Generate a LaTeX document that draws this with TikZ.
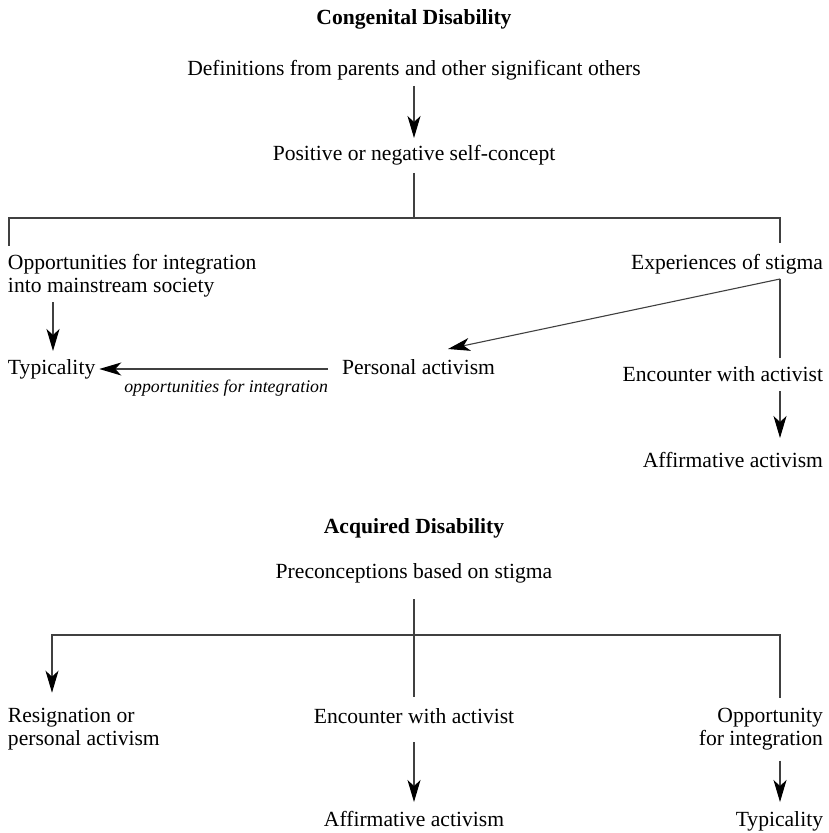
\documentclass[tikz,border=0pt]{standalone}
\usepackage{fontspec}
\setmainfont{Liberation Serif}
\usetikzlibrary{arrows.meta}
\begin{document}
\begin{tikzpicture}[x=0.5pt,y=-0.5pt,
  txt/.style={inner sep=0pt, outer sep=0pt, font=\fontsize{10.8}{11.5}\selectfont, text height=7.5pt, text depth=2.5pt},
  mtxt/.style={inner sep=0pt, outer sep=0pt, font=\fontsize{10.8}{11.5}\selectfont},
  ttl/.style={txt, font=\fontsize{10.8}{11.5}\selectfont\bfseries},
  lbl/.style={inner sep=0pt, outer sep=0pt, font=\fontsize{8.9}{10}\selectfont\itshape},
  ln/.style={draw=black!75, line width=0.55pt},
  arr/.style={ln, -{Stealth[length=11pt,width=6.5pt,inset=3pt,black]}}
]
\useasboundingbox (0,0) rectangle (828,833);

% ---------- Congenital ----------
\node[ttl, anchor=base] (t1) at (414,25) {Congenital Disability};
\node[txt, anchor=base] (def) at (414,76) {Definitions from parents and other significant others};
\node[txt, anchor=base] (pos) at (414,161) {Positive or negative self-concept};
\node[mtxt, anchor=base west, align=left] (opp) at (8,293) {Opportunities for integration\\into mainstream society};
\node[txt, anchor=base east] (exp) at (823,270) {Experiences of stigma};
\node[txt, anchor=base west] (typ) at (8,374) {Typicality};
\node[txt, anchor=base west] (pers) at (342,374) {Personal activism};
\node[lbl, anchor=base east] (lab) at (328,392) {opportunities for integration};
\node[txt, anchor=base east] (enc1) at (823,381) {Encounter with activist};
\node[txt, anchor=base east] (aff1) at (823,467) {Affirmative activism};

\coordinate (j1) at (414,218);
\coordinate (jl) at (9,218);
\coordinate (jr) at (780,218);
\coordinate (oppTop) at (9,246);
\coordinate (expTop) at (780,243);
\coordinate (s1) at (780,279);
\coordinate (cL) at (53,0);
\coordinate (cR) at (780,0);
\path (pers.north west) ++(106,-10) coordinate (ptip);
\path (enc1.north -| cR) ++(0,-8) coordinate (e1t);

\draw[arr, shorten <=2.5pt, shorten >=4pt] (def.south) -- (pos.north);
\draw[ln, shorten <=3.5pt] (pos.south) -- (j1);
\draw[ln] (oppTop) -- (jl) -- (jr) -- (expTop);
\draw[arr, shorten <=2.2pt, shorten >=4pt] (opp.south -| cL) -- (typ.north -| cL);
\draw[arr, shorten <=7pt, shorten >=2pt] (pers.west) -- (pers.west -| typ.east);
\draw[arr] (s1) -- (ptip);
\draw[ln] (s1) -- (e1t);
\draw[arr, shorten <=2.5pt, shorten >=7pt] (enc1.south -| cR) -- (aff1.north -| cR);

% ---------- Acquired ----------
\node[ttl, anchor=base] (t2) at (414,533) {Acquired Disability};
\node[txt, anchor=base] (pre) at (414,578) {Preconceptions based on stigma};
\node[mtxt, anchor=base west, align=left] (res) at (8,745) {Resignation or\\personal activism};
\node[txt, anchor=base] (enc2) at (414,723) {Encounter with activist};
\node[mtxt, anchor=base east, align=right] (opp2) at (823,745) {Opportunity\\for integration};
\node[txt, anchor=base] (aff2) at (414,826) {Affirmative activism};
\node[txt, anchor=base east] (typ2) at (823,826) {Typicality};

\coordinate (j2l) at (52,635);
\coordinate (j2r) at (780,635);
\path (res.north -| j2l) ++(0,-15) coordinate (r2t);
\path (opp2.north -| cR) ++(0,-10) coordinate (o2t);

\draw[ln, shorten <=8pt, shorten >=5.5pt] (pre.south) -- (enc2.north);
\draw[arr] (o2t) -- (j2r) -- (j2l) -- (r2t);
\draw[arr, shorten <=7pt, shorten >=4.5pt] (enc2.south) -- (aff2.north);
\draw[arr, shorten <=5.5pt, shorten >=4.5pt] (opp2.south -| cR) -- (typ2.north -| cR);
\end{tikzpicture}
\end{document}
